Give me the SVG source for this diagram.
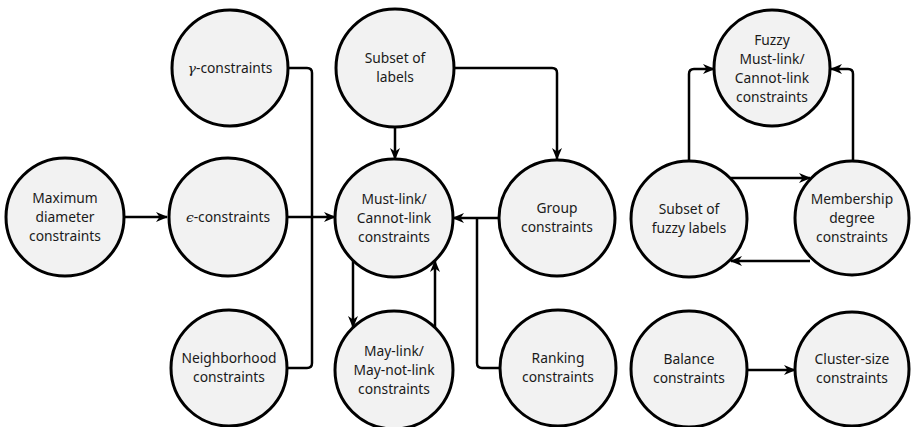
<svg xmlns="http://www.w3.org/2000/svg" width="911" height="427" viewBox="0 0 911 427">
  <defs>
    <marker id="arrow" viewBox="0 0 12 10" refX="11" refY="5" markerWidth="12" markerHeight="10" markerUnits="userSpaceOnUse" orient="auto">
      <path d="M0,0 L12,5 L0,10 L3.5,5 Z" fill="#000"/>
    </marker>
    <style>
      .node circle { fill: #f2f2f2; stroke: #000; stroke-width: 3; }
      .node text { font-family: "Noto Sans", "Open Sans", sans-serif; font-size: 13.8px; fill: #1a1a1a; text-anchor: middle; }
      .greek { font-family: "DejaVu Serif", serif; font-style: italic; }
      .edges path { fill: none; stroke: #000; stroke-width: 2.5; stroke-linejoin: round; }
      .edges .arr { marker-end: url(#arrow); }
    </style>
  </defs>

  <!-- connectors -->
  <g class="edges">
    <path class="arr" d="M125,217 H167"/>
    <!-- gamma, epsilon, neighborhood into must-link via the shared bus -->
    <path d="M288,68 H307 Q312,68 312,73 V217"/>
    <path d="M288,368 H307 Q312,368 312,363 V217"/>
    <path class="arr" d="M287,217 H335"/>
    <!-- subset of labels -->
    <path class="arr" d="M395,127 V159"/>
    <path class="arr" d="M454,68 H552 Q557,68 557,73 V159"/>
    <!-- group and ranking into must-link -->
    <path class="arr" d="M500,218 H453"/>
    <path d="M500,368 H482 Q477,368 477,363 V218"/>
    <!-- must-link / may-link -->
    <path class="arr" d="M353,261 V327"/>
    <path class="arr" d="M435,327 V261"/>
    <!-- fuzzy cluster -->
    <path class="arr" d="M689,161 V74 Q689,69 694,69 H714"/>
    <path class="arr" d="M853,161 V74 Q853,69 848,69 H831"/>
    <path class="arr" d="M731,178 H810"/>
    <path class="arr" d="M810,261 H731"/>
    <!-- balance -->
    <path class="arr" d="M748,370 H795"/>
  </g>

  <g id="max-diameter" class="node">
    <circle cx="65" cy="217" r="59"/>
    <text x="65" y="203">Maximum</text>
    <text x="65" y="222">diameter</text>
    <text x="65" y="241">constraints</text>
  </g>
  <g id="epsilon" class="node">
    <circle cx="228" cy="217" r="59"/>
    <text x="228" y="222"><tspan class="greek">ϵ</tspan>-constraints</text>
  </g>
  <g id="gamma" class="node">
    <circle cx="230" cy="68" r="58"/>
    <text x="230" y="73"><tspan class="greek">γ</tspan>-constraints</text>
  </g>
  <g id="neighborhood" class="node">
    <circle cx="229" cy="368" r="58"/>
    <text x="229" y="363">Neighborhood</text>
    <text x="229" y="382">constraints</text>
  </g>
  <g id="subset-labels" class="node">
    <circle cx="395" cy="68" r="59"/>
    <text x="395" y="63">Subset of</text>
    <text x="395" y="82">labels</text>
  </g>
  <g id="must-link" class="node">
    <circle cx="394" cy="218" r="59"/>
    <text x="394" y="204">Must-link/</text>
    <text x="394" y="223">Cannot-link</text>
    <text x="394" y="242">constraints</text>
  </g>
  <g id="group" class="node">
    <circle cx="557" cy="218" r="58"/>
    <text x="557" y="213">Group</text>
    <text x="557" y="232">constraints</text>
  </g>
  <g id="may-link" class="node">
    <circle cx="394" cy="370" r="59"/>
    <text x="394" y="356">May-link/</text>
    <text x="394" y="375">May-not-link</text>
    <text x="394" y="394">constraints</text>
  </g>
  <g id="ranking" class="node">
    <circle cx="558" cy="368" r="58"/>
    <text x="558" y="363">Ranking</text>
    <text x="558" y="382">constraints</text>
  </g>
  <g id="fuzzy-must-link" class="node">
    <circle cx="772" cy="68" r="58"/>
    <text x="772" y="44.5">Fuzzy</text>
    <text x="772" y="63.5">Must-link/</text>
    <text x="772" y="82.5">Cannot-link</text>
    <text x="772" y="101.5">constraints</text>
  </g>
  <g id="subset-fuzzy" class="node">
    <circle cx="689" cy="219" r="58"/>
    <text x="689" y="214">Subset of</text>
    <text x="689" y="233">fuzzy labels</text>
  </g>
  <g id="membership" class="node">
    <circle cx="852" cy="218" r="57"/>
    <text x="852" y="204">Membership</text>
    <text x="852" y="223">degree</text>
    <text x="852" y="242">constraints</text>
  </g>
  <g id="balance" class="node">
    <circle cx="689" cy="369" r="58"/>
    <text x="689" y="364">Balance</text>
    <text x="689" y="383">constraints</text>
  </g>
  <g id="cluster-size" class="node">
    <circle cx="852" cy="369" r="57"/>
    <text x="852" y="364">Cluster-size</text>
    <text x="852" y="383">constraints</text>
  </g>
</svg>
